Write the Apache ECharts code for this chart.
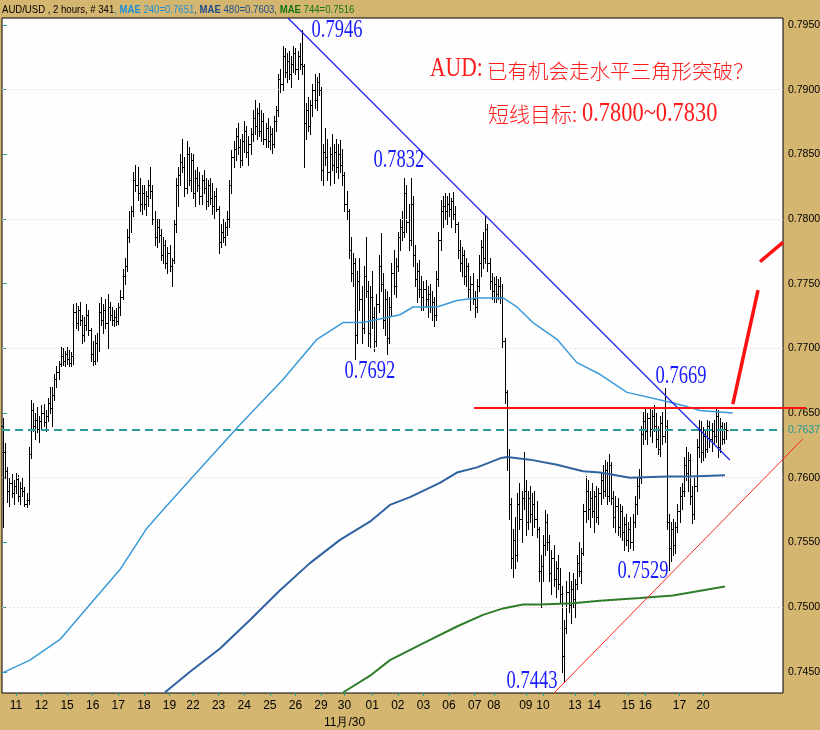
<!DOCTYPE html>
<html><head><meta charset="utf-8">
<script src="https://cdn.jsdelivr.net/npm/echarts@6/dist/echarts.min.js"></script>
<style>html,body{margin:0;padding:0;background:#d5b670;}#c{width:820px;height:730px;}</style>
</head><body><div id="c"></div>
<script>
// OHLC bars, 2-hour AUD/USD: [open, high, low, close]
const bars = [
[.7640,.7646,.7562,.7620],[.7620,.7627,.7600,.7605],[.7605,.7608,.7581,.7590],[.7590,.7600,.7578,.7596],[.7596,.7603,.7585,.7588],[.7588,.7598,.7580,.7594],
[.7594,.7604,.7588,.7599],[.7599,.7602,.7582,.7586],[.7586,.7597,.7580,.7592],[.7592,.7600,.7586,.7590],[.7590,.7593,.7578,.7580],[.7580,.7588,.7577,.7583],
[.7583,.7624,.7580,.7618],[.7618,.7660,.7615,.7652],[.7652,.7658,.7636,.7640],[.7640,.7650,.7630,.7645],[.7645,.7655,.7635,.7638],[.7638,.7648,.7628,.7644],
[.7644,.7656,.7638,.7650],[.7650,.7657,.7640,.7643],[.7643,.7652,.7636,.7648],[.7648,.7662,.7644,.7658],[.7658,.7670,.7650,.7654],[.7654,.7670,.7640,.7664],
[.7664,.7680,.7660,.7676],[.7676,.7686,.7670,.7682],[.7682,.7690,.7676,.7688],[.7688,.7701,.7686,.7694],[.7694,.7700,.7687,.7690],[.7690,.7698,.7686,.7696],
[.7696,.7701,.7688,.7692],[.7692,.7699,.7686,.7689],[.7689,.7697,.7686,.7694],[.7694,.7734,.7688,.7728],[.7728,.7735,.7716,.7720],[.7720,.7733,.7714,.7730],
[.7730,.7736,.7718,.7722],[.7722,.7726,.7704,.7710],[.7710,.7724,.7706,.7718],[.7718,.7734,.7714,.7726],[.7726,.7730,.7710,.7714],[.7714,.7716,.7690,.7696],
[.7696,.7706,.7687,.7690],[.7690,.7710,.7688,.7704],[.7704,.7712,.7690,.7700],[.7700,.7735,.7698,.7728],[.7728,.7740,.7718,.7722],[.7722,.7734,.7712,.7730],
[.7730,.7738,.7716,.7720],[.7720,.7742,.7700,.7732],[.7732,.7736,.7722,.7726],[.7726,.7732,.7718,.7722],[.7722,.7730,.7717,.7724],[.7724,.7731,.7718,.7721],
[.7721,.7735,.7719,.7732],[.7732,.7745,.7726,.7740],[.7740,.7761,.7738,.7756],[.7756,.7770,.7750,.7764],[.7764,.7792,.7760,.7786],[.7786,.7806,.7782,.7800],
[.7800,.7810,.7790,.7806],[.7806,.7836,.7802,.7830],[.7830,.7842,.7822,.7826],[.7826,.7840,.7815,.7820],[.7820,.7832,.7806,.7812],[.7812,.7826,.7804,.7820],
[.7820,.7826,.7808,.7812],[.7812,.7822,.7803,.7818],[.7818,.7830,.7810,.7826],[.7826,.7840,.7816,.7822],[.7822,.7826,.7796,.7800],[.7800,.7806,.7780,.7786],
[.7786,.7800,.7778,.7794],[.7794,.7800,.7782,.7788],[.7788,.7792,.7768,.7772],[.7772,.7786,.7766,.7780],[.7780,.7784,.7762,.7766],[.7766,.7778,.7758,.7774],
[.7774,.7780,.7760,.7764],[.7764,.7770,.7748,.7768],[.7768,.7800,.7766,.7796],[.7796,.7832,.7790,.7826],[.7826,.7840,.7810,.7834],[.7834,.7850,.7826,.7844],
[.7844,.7862,.7836,.7840],[.7840,.7848,.7818,.7824],[.7824,.7860,.7820,.7850],[.7850,.7856,.7826,.7830],[.7830,.7851,.7822,.7846],[.7846,.7850,.7816,.7820],
[.7820,.7838,.7810,.7832],[.7832,.7840,.7822,.7826],[.7826,.7836,.7812,.7818],[.7818,.7834,.7812,.7830],[.7830,.7838,.7820,.7824],[.7824,.7832,.7808,.7814],
[.7814,.7830,.7810,.7826],[.7826,.7832,.7812,.7816],[.7816,.7828,.7804,.7810],[.7810,.7822,.7800,.7818],[.7818,.7824,.7806,.7808],[.7808,.7810,.7774,.7782],
[.7782,.7796,.7778,.7790],[.7790,.7800,.7782,.7786],[.7786,.7798,.7780,.7794],[.7794,.7806,.7788,.7800],[.7800,.7830,.7794,.7826],[.7826,.7853,.7820,.7848],
[.7848,.7860,.7840,.7854],[.7854,.7870,.7846,.7864],[.7864,.7874,.7850,.7856],[.7856,.7862,.7840,.7846],[.7846,.7866,.7842,.7860],[.7860,.7876,.7852,.7868],
[.7868,.7872,.7848,.7852],[.7852,.7864,.7842,.7858],[.7858,.7870,.7850,.7866],[.7866,.7884,.7860,.7878],[.7878,.7892,.7866,.7872],[.7872,.7886,.7862,.7882],
[.7882,.7890,.7864,.7868],[.7868,.7884,.7860,.7876],[.7876,.7882,.7858,.7862],[.7862,.7874,.7856,.7870],[.7870,.7878,.7856,.7860],[.7860,.7872,.7854,.7866],
[.7866,.7870,.7851,.7858],[.7858,.7880,.7856,.7876],[.7876,.7887,.7868,.7884],[.7884,.7912,.7880,.7908],[.7908,.7916,.7898,.7904],[.7904,.7934,.7900,.7926],
[.7926,.7932,.7910,.7914],[.7914,.7928,.7906,.7922],[.7922,.7930,.7908,.7912],[.7912,.7926,.7902,.7920],[.7920,.7934,.7914,.7928],[.7928,.7932,.7912,.7916],
[.7916,.7930,.7908,.7926],[.7926,.7936,.7916,.7920],[.7920,.7946,.7912,.7918],[.7918,.7920,.7840,.7874],[.7874,.7890,.7862,.7884],[.7884,.7894,.7868,.7872],
[.7872,.7892,.7866,.7888],[.7888,.7904,.7880,.7900],[.7900,.7912,.7886,.7892],[.7892,.7910,.7884,.7906],[.7906,.7913,.7896,.7900],[.7900,.7902,.7830,.7838],
[.7838,.7858,.7826,.7852],[.7852,.7870,.7842,.7848],[.7848,.7862,.7830,.7836],[.7836,.7856,.7826,.7850],[.7850,.7866,.7838,.7842],[.7842,.7858,.7828,.7852],
[.7852,.7862,.7836,.7840],[.7840,.7858,.7832,.7850],[.7850,.7861,.7836,.7842],[.7842,.7854,.7826,.7834],[.7834,.7836,.7806,.7812],[.7812,.7822,.7800,.7806],
[.7806,.7808,.7770,.7776],[.7776,.7786,.7752,.7758],[.7758,.7774,.7748,.7766],[.7766,.7770,.7692,.7710],[.7710,.7760,.7704,.7752],[.7752,.7770,.7730,.7738],
[.7738,.7748,.7704,.7716],[.7716,.7764,.7712,.7756],[.7756,.7786,.7740,.7744],[.7744,.7752,.7702,.7712],[.7712,.7748,.7700,.7740],[.7740,.7760,.7716,.7724],
[.7724,.7732,.7698,.7706],[.7706,.7742,.7702,.7734],[.7734,.7772,.7728,.7764],[.7764,.7789,.7744,.7750],[.7750,.7758,.7716,.7722],[.7722,.7746,.7710,.7738],
[.7738,.7744,.7696,.7708],[.7708,.7740,.7704,.7732],[.7732,.7766,.7726,.7758],[.7758,.7776,.7742,.7748],[.7748,.7770,.7740,.7764],[.7764,.7790,.7760,.7786],
[.7786,.7800,.7776,.7794],[.7794,.7806,.7784,.7790],[.7790,.7832,.7786,.7820],[.7820,.7826,.7790,.7798],[.7798,.7812,.7776,.7784],[.7784,.7832,.7780,.7812],
[.7812,.7818,.7764,.7772],[.7772,.7780,.7748,.7754],[.7754,.7766,.7736,.7760],[.7760,.7768,.7740,.7746],[.7746,.7756,.7730,.7740],[.7740,.7752,.7730,.7746],
[.7746,.7753,.7732,.7738],[.7738,.7748,.7724,.7742],[.7742,.7750,.7728,.7732],[.7732,.7744,.7722,.7736],[.7736,.7740,.7717,.7726],[.7726,.7760,.7722,.7754],
[.7754,.7790,.7748,.7784],[.7784,.7815,.7776,.7806],[.7806,.7818,.7794,.7810],[.7810,.7820,.7800,.7806],[.7806,.7818,.7796,.7812],[.7812,.7820,.7802,.7808],
[.7808,.7816,.7794,.7814],[.7814,.7821,.7800,.7804],[.7804,.7810,.7790,.7796],[.7796,.7798,.7770,.7776],[.7776,.7784,.7760,.7766],[.7766,.7778,.7756,.7772],
[.7772,.7776,.7750,.7756],[.7756,.7770,.7748,.7764],[.7764,.7766,.7740,.7746],[.7746,.7756,.7730,.7750],[.7750,.7758,.7734,.7738],[.7738,.7744,.7724,.7732],
[.7732,.7754,.7728,.7748],[.7748,.7772,.7744,.7766],[.7766,.7784,.7756,.7778],[.7778,.7790,.7762,.7770],[.7770,.7802,.7766,.7792],[.7792,.7796,.7760,.7766],
[.7766,.7770,.7746,.7752],[.7752,.7758,.7738,.7744],[.7744,.7755,.7736,.7750],[.7750,.7756,.7736,.7742],[.7742,.7754,.7738,.7748],[.7748,.7755,.7735,.7740],
[.7740,.7750,.7700,.7706],[.7706,.7708,.7658,.7666],[.7666,.7668,.7606,.7616],[.7616,.7622,.7568,.7580],[.7580,.7584,.7530,.7538],[.7538,.7560,.7523,.7552],
[.7552,.7570,.7530,.7540],[.7540,.7588,.7536,.7580],[.7580,.7596,.7560,.7568],[.7568,.7590,.7550,.7584],[.7584,.7620,.7576,.7590],[.7590,.7598,.7556,.7566],
[.7566,.7590,.7560,.7584],[.7584,.7594,.7566,.7572],[.7572,.7588,.7556,.7580],[.7580,.7590,.7562,.7568],[.7568,.7582,.7554,.7560],[.7560,.7562,.7520,.7528],
[.7528,.7540,.7500,.7532],[.7532,.7556,.7520,.7548],[.7548,.7575,.7540,.7566],[.7566,.7572,.7544,.7550],[.7550,.7556,.7520,.7526],[.7526,.7544,.7510,.7538],
[.7538,.7548,.7516,.7522],[.7522,.7536,.7508,.7530],[.7530,.7540,.7514,.7518],[.7518,.7530,.7503,.7510],[.7510,.7516,.7450,.7462],[.7462,.7490,.7443,.7484],
[.7484,.7520,.7480,.7512],[.7512,.7527,.7496,.7502],[.7502,.7520,.7488,.7514],[.7514,.7526,.7500,.7506],[.7506,.7522,.7492,.7518],[.7518,.7540,.7514,.7534],
[.7534,.7550,.7524,.7528],[.7528,.7546,.7519,.7542],[.7542,.7580,.7540,.7574],[.7574,.7601,.7566,.7590],[.7590,.7598,.7568,.7576],[.7576,.7590,.7562,.7584],
[.7584,.7596,.7570,.7574],[.7574,.7590,.7558,.7586],[.7586,.7594,.7566,.7570],[.7570,.7592,.7564,.7588],[.7588,.7604,.7580,.7598],[.7598,.7610,.7584,.7590],
[.7590,.7614,.7586,.7606],[.7606,.7612,.7580,.7586],[.7586,.7618,.7582,.7610],[.7610,.7612,.7580,.7584],[.7584,.7590,.7562,.7570],[.7570,.7586,.7558,.7578],
[.7578,.7584,.7556,.7562],[.7562,.7580,.7554,.7574],[.7574,.7578,.7552,.7558],[.7558,.7570,.7544,.7564],[.7564,.7572,.7548,.7552],[.7552,.7566,.7543,.7560],
[.7560,.7570,.7546,.7550],[.7550,.7572,.7544,.7566],[.7566,.7586,.7562,.7580],[.7580,.7600,.7572,.7594],[.7594,.7607,.7584,.7600],[.7600,.7640,.7596,.7634],
[.7634,.7651,.7626,.7644],[.7644,.7655,.7630,.7636],[.7636,.7650,.7626,.7646],[.7646,.7654,.7632,.7638],[.7638,.7652,.7628,.7648],[.7648,.7656,.7636,.7640],
[.7640,.7650,.7624,.7630],[.7630,.7640,.7618,.7622],[.7622,.7648,.7617,.7642],[.7642,.7651,.7626,.7632],[.7632,.7669,.7628,.7640],[.7640,.7645,.7560,.7566],
[.7566,.7572,.7529,.7546],[.7546,.7566,.7536,.7560],[.7560,.7568,.7540,.7548],[.7548,.7566,.7542,.7562],[.7562,.7580,.7558,.7574],[.7574,.7593,.7566,.7586],
[.7586,.7596,.7576,.7590],[.7590,.7616,.7586,.7610],[.7610,.7624,.7598,.7604],[.7604,.7620,.7590,.7614],[.7614,.7618,.7580,.7586],[.7586,.7594,.7565,.7572],
[.7572,.7600,.7568,.7594],[.7594,.7630,.7590,.7624],[.7624,.7645,.7616,.7638],[.7638,.7644,.7612,.7620],[.7620,.7639,.7614,.7632],[.7632,.7638,.7616,.7622],
[.7622,.7645,.7620,.7640],[.7640,.7644,.7624,.7630],[.7630,.7642,.7621,.7636],[.7636,.7645,.7626,.7632],[.7632,.7654,.7628,.7648],[.7648,.7652,.7616,.7624],
[.7624,.7646,.7620,.7640],[.7640,.7643,.7626,.7630],[.7630,.7642,.7627,.7638],[.7638,.7643,.7630,.7637]
];
// x-axis day labels and the bar index each sits at
const dayLabels = ['11','12','15','16','17','18','19','22','23','24','25','26','29','30','01','02','03','06','07','08','09','10','13','14','15','16','17','20'];
const dayIdx    = [6,18,30,42,54,66,78,89,101,113,125,137,149,160,173,185,197,209,221,230,245,253,268,277,293,301,317,328];
const monthNote = {'30':'11月/30'};
const priceTicks = [0.7450,0.7500,0.7550,0.7600,0.7650,0.7700,0.7750,0.7800,0.7850,0.7900,0.7950];
const lastPrice = 0.7637;
// moving averages [barIndex, value]
const ma240 = [[-0.5,.7449],[12.6,.7459],[26.7,.7475],[40.7,.7502],[54.8,.7529],[67.4,.7561],[74.9,.7575],[92.3,.7607],[111,.7641],[131.2,.7676],[147.1,.7707],[159.3,.7720],[168.7,.7720],[186,.7726],[192.1,.7732],[203.3,.7732],[212.7,.7737],[222.1,.7739],[234.3,.7739],[240.8,.7732],[248.3,.7720],[259.6,.7707],[268.9,.7689],[279.7,.7680],[292.4,.7666],[311.1,.7659],[320.5,.7655],[326.6,.7652],[342,.7650]];
const ma480 = [[75.8,.7434],[87.6,.7450],[101.7,.7468],[115.7,.7490],[129.8,.7513],[143.8,.7534],[157.9,.7552],[171.9,.7566],[181.3,.7579],[190.7,.7585],[204.7,.7596],[212.7,.7604],[222.1,.7608],[232.9,.7615],[236.1,.7616],[246.9,.7614],[259.6,.7610],[271.8,.7605],[279.7,.7604],[293.8,.7600],[311.1,.7601],[321.9,.7601],[338.3,.7602]];
const ma744 = [[159.3,.7434],[172,.7447],[181.3,.7459],[196.8,.7472],[212.7,.7485],[224.9,.7494],[234.3,.7499],[243.6,.7502],[251.6,.7502],[267.1,.7503],[279.7,.7505],[298.5,.7507],[313.9,.7509],[338.3,.7516]];
// drawn analysis lines [barIndex, price]
const downTrend  = [[133.5,.79554],[340.6,.76137]];
const resistance = [[220.7,.7654],[376.3,.7654]];
const upTrend    = [[258.2,.74336],[374.8,.7630]];
const arrowShaft = [[342.0,.7657],[353.8,.7745]];
const arrowHead  = [[354.7,.7767],[365.5,.7782]];
// price annotations: text, bar index, price of text centre
const notes = [['0.7946',156.5,.7946],['0.7832',185.5,.78456],['0.7692',171.9,.76818],['0.7669',317.7,.76787],['0.7529',299.9,.75272],['0.7443',247.9,.74429]];

const X0 = -0.5, X1 = 365.5, Y0 = 0.74336, Y1 = 0.79554;
const gridLevels = [];
for (let k = 0; k <= 41; k++) gridLevels.push(+(0.74375 + k * 0.00125).toFixed(5));

const chart = echarts.init(document.getElementById('c'), null, {renderer:'canvas'});
const sans = '"Liberation Sans","DejaVu Sans",sans-serif';

function renderBar(params, api) {
  const i = api.value(0);
  const pO = api.coord([i, api.value(1)]);
  const yH = api.coord([i, api.value(2)])[1];
  const yL = api.coord([i, api.value(3)])[1];
  const yC = api.coord([i, api.value(4)])[1];
  const x = Math.round(pO[0]) + 0.5;
  const yo = Math.round(pO[1]) + 0.5, yc = Math.round(yC) + 0.5;
  const st = {stroke:'#000', lineWidth:1};
  return {type:'group', children:[
    {type:'line', shape:{x1:x, y1:Math.round(yH), x2:x, y2:Math.round(yL)+1}, style:st},
    {type:'line', shape:{x1:x-2, y1:yo, x2:x, y2:yo}, style:st},
    {type:'line', shape:{x1:x, y1:yc, x2:x+2, y2:yc}, style:st}
  ]};
}

function lineSeries(data, color, width, extra) {
  return Object.assign({type:'line', data, showSymbol:false, symbol:'none', silent:true,
    lineStyle:{color, width}, z:5}, extra || {});
}

chart.setOption({
  backgroundColor:'#d5b670',
  animation:false,
  grid:{left:2, top:18, width:781, height:675, show:true, backgroundColor:'#fefefe', borderColor:'#000', borderWidth:1,
    outerBoundsMode:'none', containLabel:false},
  xAxis:{type:'value', min:X0, max:X1, axisLine:{show:false}, splitLine:{show:false},
    axisTick:{show:true, customValues:dayIdx, length:3, lineStyle:{color:'#2a9d9d', width:1}},
    axisLabel:{customValues:dayIdx, margin:4, color:'#000', fontSize:12, fontFamily:sans, lineHeight:17,
      formatter:v => { const j = dayIdx.findIndex(d => Math.abs(d - v) < 0.01); if (j < 0) return ''; const t = dayLabels[j]; return (monthNote[t] && dayIdx[j] === 160) ? t + '\n' + monthNote[t] : t; }}},
  yAxis:{type:'value', position:'right', min:Y0, max:Y1, axisLine:{show:false}, splitLine:{show:false},
    axisTick:{show:true, customValues:priceTicks.concat([lastPrice]), length:4, lineStyle:{color:'#2a9d9d', width:1}},
    axisLabel:{customValues:priceTicks.concat([lastPrice]), margin:5, color:'#000', fontSize:10.5, fontFamily:sans,
      formatter:v => Math.abs(v - lastPrice) < 1e-6 ? '{t|' + v.toFixed(4) + '}' : v.toFixed(4),
      rich:{t:{color:'#1e9a9a', fontSize:10.5, fontFamily:sans}}}},
  series:[
    {type:'line', data:[[X0,lastPrice],[X1,lastPrice]], showSymbol:false, symbol:'none', silent:true, z:4,
      lineStyle:{color:'#2e9b9b', width:2, type:[8,5]},
      markLine:{silent:true, symbol:'none', label:{show:false}, animation:false,
        lineStyle:{color:'#f0c4c4', width:1, type:[1,3]}, data:gridLevels.map(v => ({yAxis:v}))}},
    {type:'custom', renderItem:renderBar, z:3, silent:true,
      data:bars.map((b, i) => [i, b[0], b[1], b[2], b[3]]), encode:{x:0, y:[1,2,3,4]}},
    lineSeries(ma240, '#3a9ad8', 1.5),
    lineSeries(ma480, '#2f62a0', 2),
    lineSeries(ma744, '#2f7d2a', 2),
    lineSeries(downTrend, '#2222f0', 1.2, {z:6})
  ]
});

const graphics = [];
const toPx = pts => pts.map(p => chart.convertToPixel({gridIndex:0}, p));
// drawn lines that run past the plot edge
[[resistance, '#ff1414', 2], [upTrend, '#ff2222', 1], [arrowShaft, '#ff1010', 3.5], [arrowHead, '#ff1010', 3.5]].forEach(l => {
  graphics.push({type:'polyline', z:50, silent:true, shape:{points:toPx(l[0])}, style:{stroke:l[1], lineWidth:l[2], fill:null}});
});
graphics.push({type:'text', x:2, y:10, scaleX:0.87, style:{
  text:'{k|AUD/USD , 2 hours, # 341}{b|, }{bm|MAE}{b| 240=0.7651}{d|, }{dm|MAE}{d| 480=0.7603}{g|, }{gm|MAE}{g| 744=0.7516}',
  x:0, y:0, verticalAlign:'middle', font:'11px ' + sans,
  rich:{k:{fill:'#000', font:'11px ' + sans}, b:{fill:'#1e8fd6', font:'11px ' + sans}, bm:{fill:'#1e8fd6', font:'bold 11px ' + sans},
        d:{fill:'#1d4d8c', font:'11px ' + sans}, dm:{fill:'#1d4d8c', font:'bold 11px ' + sans},
        g:{fill:'#137413', font:'11px ' + sans}, gm:{fill:'#137413', font:'bold 11px ' + sans}}}});
// red title
const serif = '"Liberation Serif","DejaVu Serif",serif';
const cjk = '"Noto Sans CJK SC","Noto Sans CJK JP",sans-serif';
graphics.push({type:'text', x:430, y:69, scaleX:0.77, style:{text:'AUD:', x:0, y:0, align:'left', verticalAlign:'middle', font:'28px ' + serif, fill:'#ff1a1a'}});
graphics.push({type:'text', x:487, y:71, style:{text:'已有机会走水平三角形突破？', x:0, y:0, align:'left', verticalAlign:'middle', font:'300 20.5px ' + cjk, fill:'#ff1a1a'}});
graphics.push({type:'text', x:488, y:114, style:{text:'短线目标:', x:0, y:0, align:'left', verticalAlign:'middle', font:'300 21px ' + cjk, fill:'#ff1a1a'}});
graphics.push({type:'text', x:582, y:114, scaleX:0.83, style:{text:'0.7800~0.7830', x:0, y:0, align:'left', verticalAlign:'middle', font:'27px ' + serif, fill:'#ff1a1a'}});
notes.forEach(n => {
  const p = chart.convertToPixel({gridIndex:0}, [n[1], n[2]]);
  graphics.push({type:'text', x:p[0], y:p[1], scaleX:0.74, z:60, style:{text:n[0], x:0, y:0, align:'center', verticalAlign:'middle', font:'25px ' + serif, fill:'#1a1aff'}});
});
chart.setOption({graphic:graphics});
</script></body></html>
